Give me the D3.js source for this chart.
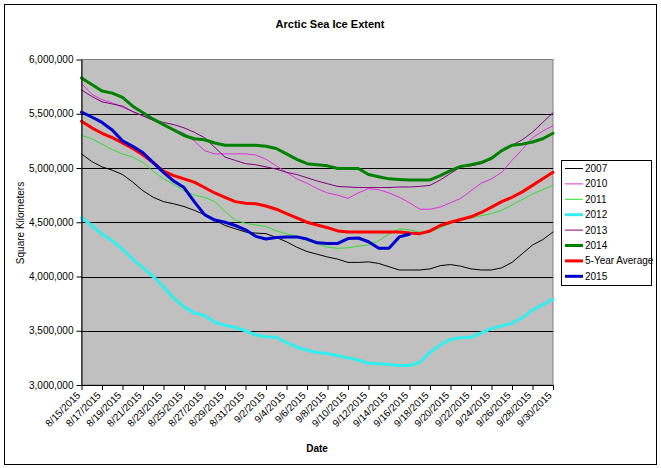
<!DOCTYPE html>
<html><head><meta charset="utf-8">
<script src="https://cdn.jsdelivr.net/npm/d3@7"></script>
<style>
body{margin:0;background:#fff;}
svg{display:block;font-family:"Liberation Sans",Arial,sans-serif;}
</style></head>
<body><svg id="c" width="661" height="468"></svg>
<script>
const dates = ["8/15/2015","8/16/2015","8/17/2015","8/18/2015","8/19/2015","8/20/2015","8/21/2015","8/22/2015","8/23/2015","8/24/2015","8/25/2015","8/26/2015","8/27/2015","8/28/2015","8/29/2015","8/30/2015","8/31/2015","9/1/2015","9/2/2015","9/3/2015","9/4/2015","9/5/2015","9/6/2015","9/7/2015","9/8/2015","9/9/2015","9/10/2015","9/11/2015","9/12/2015","9/13/2015","9/14/2015","9/15/2015","9/16/2015","9/17/2015","9/18/2015","9/19/2015","9/20/2015","9/21/2015","9/22/2015","9/23/2015","9/24/2015","9/25/2015","9/26/2015","9/27/2015","9/28/2015","9/29/2015","9/30/2015"];
const xTickLabels = ["8/15/2015","8/17/2015","8/19/2015","8/21/2015","8/23/2015","8/25/2015","8/27/2015","8/29/2015","8/31/2015","9/2/2015","9/4/2015","9/6/2015","9/8/2015","9/10/2015","9/12/2015","9/14/2015","9/16/2015","9/18/2015","9/20/2015","9/22/2015","9/24/2015","9/26/2015","9/28/2015","9/30/2015"];
const yTicks = [3000000,3500000,4000000,4500000,5000000,5500000,6000000];

// values in millions of km^2
const s2007 = [5.13,5.06,5.01,4.98,4.94,4.87,4.79,4.73,4.69,4.67,4.645,4.61,4.57,4.52,4.47,4.44,4.41,4.40,4.395,4.36,4.32,4.27,4.23,4.205,4.18,4.16,4.13,4.13,4.135,4.12,4.09,4.06,4.06,4.06,4.07,4.10,4.11,4.095,4.07,4.06,4.06,4.08,4.13,4.21,4.29,4.34,4.41];
const s2010 = [5.78,5.68,5.63,5.60,5.56,5.52,5.48,5.44,5.40,5.36,5.32,5.25,5.16,5.13,5.13,5.13,5.13,5.12,5.08,5.02,4.96,4.90,4.86,4.81,4.77,4.75,4.72,4.77,4.81,4.80,4.77,4.73,4.68,4.62,4.62,4.64,4.68,4.72,4.79,4.86,4.90,4.96,5.07,5.17,5.28,5.34,5.39];
const s2011 = [5.30,5.27,5.22,5.17,5.13,5.10,5.05,4.97,4.90,4.85,4.79,4.75,4.73,4.69,4.60,4.52,4.49,4.475,4.46,4.42,4.395,4.37,4.33,4.30,4.27,4.26,4.265,4.28,4.29,4.33,4.39,4.44,4.43,4.41,4.41,4.45,4.49,4.52,4.54,4.56,4.58,4.61,4.66,4.71,4.76,4.80,4.84];
const s2012 = [4.54,4.47,4.39,4.33,4.25,4.16,4.08,4.00,3.905,3.80,3.72,3.665,3.64,3.58,3.55,3.53,3.50,3.46,3.445,3.44,3.39,3.35,3.32,3.30,3.29,3.27,3.25,3.23,3.20,3.195,3.19,3.18,3.18,3.21,3.30,3.37,3.42,3.435,3.44,3.48,3.52,3.545,3.57,3.62,3.69,3.74,3.79];
const s2013 = [5.72,5.66,5.61,5.59,5.57,5.52,5.48,5.44,5.42,5.40,5.37,5.33,5.28,5.19,5.10,5.07,5.04,5.03,5.01,4.99,4.96,4.94,4.91,4.88,4.855,4.83,4.825,4.82,4.82,4.82,4.82,4.825,4.825,4.83,4.84,4.89,4.95,5.01,5.02,5.04,5.08,5.16,5.21,5.26,5.33,5.42,5.51];
const s2014 = [5.83,5.77,5.71,5.69,5.65,5.57,5.51,5.45,5.40,5.35,5.30,5.27,5.26,5.23,5.21,5.21,5.21,5.21,5.20,5.18,5.13,5.08,5.04,5.03,5.02,4.995,4.995,4.995,4.94,4.92,4.90,4.895,4.89,4.89,4.89,4.93,4.975,5.015,5.03,5.05,5.09,5.16,5.21,5.22,5.24,5.27,5.32];
const sAvg = [5.43,5.37,5.32,5.28,5.23,5.18,5.12,5.05,4.97,4.93,4.90,4.87,4.82,4.77,4.73,4.69,4.675,4.67,4.65,4.62,4.58,4.54,4.50,4.475,4.45,4.42,4.41,4.41,4.41,4.41,4.41,4.41,4.40,4.395,4.42,4.47,4.50,4.525,4.55,4.59,4.64,4.69,4.73,4.78,4.84,4.90,4.96];
const s2015 = [5.515,5.47,5.42,5.35,5.25,5.20,5.14,5.05,4.96,4.88,4.82,4.69,4.57,4.52,4.50,4.47,4.43,4.37,4.345,4.36,4.365,4.365,4.345,4.31,4.305,4.305,4.35,4.355,4.32,4.26,4.26,4.365,4.39];

const seriesNames = ["2007","2010","2011","2012","2013","2014","5-Year Average","2015"];
const seriesData = [s2007,s2010,s2011,s2012,s2013,s2014,sAvg,s2015];
const seriesColors = ["#000000","#e030e0","#33dd33","#33eeee","#800080","#008000","#ff0000","#0000cc"];
const seriesWidths = [1,1,1,3,1,3,3,3];

const svg = d3.select("#c");
const L=81.5, R=553, T=59.5, B=385;

svg.append("rect").attr("x",4.5).attr("y",4.5).attr("width",652).attr("height",460)
  .attr("fill","#fff").attr("stroke","#000").attr("stroke-width",1);

const x = d3.scalePoint().domain(dates).range([L,R]);
const y = d3.scaleLinear().domain([3000000,6000000]).range([B,T]);

svg.append("rect").attr("x",L).attr("y",T).attr("width",R-L).attr("height",B-T)
  .attr("fill","#c0c0c0").attr("stroke","#808080").attr("stroke-width",1);

// gridlines
svg.append("g").selectAll("line").data(yTicks.filter(v=>v>3000000 && v<6000000)).join("line")
  .attr("x1",L).attr("x2",R).attr("y1",d=>Math.round(y(d))+0.5).attr("y2",d=>Math.round(y(d))+0.5)
  .attr("stroke","#000").attr("stroke-width",1);

// lines
const line = d3.line().x((d,i)=>x(dates[i])).y(d=>y(d*1000000));
seriesData.forEach((s,k)=>{
  svg.append("path").datum(s).attr("d",line).attr("fill","none")
    .attr("stroke",seriesColors[k]).attr("stroke-width",seriesWidths[k])
    .attr("stroke-linejoin","round").attr("stroke-linecap","round");
});

// y axis
const ya = svg.append("g").attr("transform",`translate(${L},0)`)
  .call(d3.axisLeft(y).tickValues(yTicks).tickFormat(d3.format(",")).tickSizeInner(5).tickSizeOuter(0).tickPadding(3));
ya.select(".domain").attr("stroke","#000");
ya.selectAll("text").attr("font-size",10).attr("fill","#000").attr("font-family","Liberation Sans, Arial, sans-serif");

// x axis
const xa = svg.append("g").attr("transform",`translate(0,${B})`)
  .call(d3.axisBottom(x).tickValues(xTickLabels).tickSizeInner(5).tickSizeOuter(0));
xa.select(".domain").attr("stroke","#000");
xa.selectAll("text").attr("font-size",10).attr("fill","#000").attr("font-family","Liberation Sans, Arial, sans-serif")
  .attr("text-anchor","end").attr("dy",null).attr("y",0)
  .attr("transform","translate(-1,11) rotate(-45)");

// titles
svg.append("text").attr("x",330).attr("y",27.5).attr("text-anchor","middle")
  .attr("font-size",11).attr("font-weight","bold").text("Arctic Sea Ice Extent");
svg.append("text").attr("x",317).attr("y",452).attr("text-anchor","middle")
  .attr("font-size",10).attr("font-weight","bold").text("Date");
svg.append("text").attr("transform","translate(24,223) rotate(-90)").attr("text-anchor","middle")
  .attr("font-size",10).text("Square Kilometers");

// legend
const lg = svg.append("g");
lg.append("rect").attr("x",561.5).attr("y",160.5).attr("width",90).attr("height",125)
  .attr("fill","#fff").attr("stroke","#000");
seriesNames.forEach((n,k)=>{
  const yy = 168.5 + k*15.4;
  lg.append("line").attr("x1",565).attr("x2",583).attr("y1",yy).attr("y2",yy)
    .attr("stroke",seriesColors[k]).attr("stroke-width",seriesWidths[k]);
  lg.append("text").attr("x",585).attr("y",yy+3.5).attr("font-size",10).text(n);
});
</script></body></html>
